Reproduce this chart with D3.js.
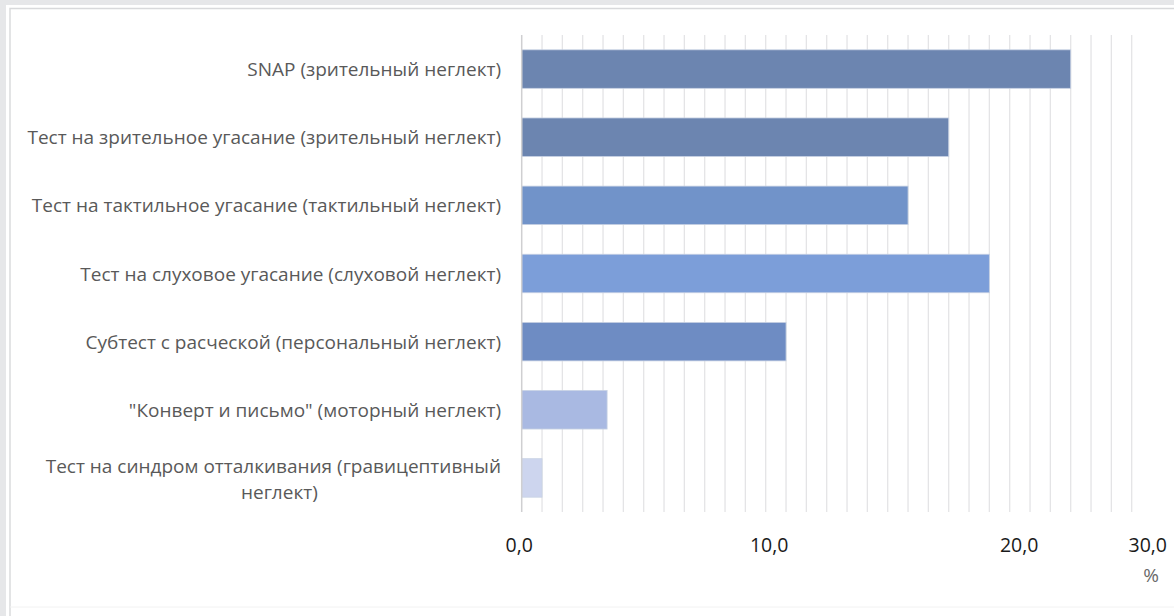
<!DOCTYPE html>
<html>
<head>
<meta charset="utf-8">
<script src="https://cdn.jsdelivr.net/npm/d3@7/dist/d3.min.js"></script>
<style>
  html, body { margin: 0; padding: 0; background: #e6e7e9; }
  svg { display: block; }
</style>
</head>
<body>
<svg id="chart" width="1174" height="616"></svg>
<script>
// ---- data ----
const categories = [
  "SNAP (зрительный неглект)",
  "Тест на зрительное угасание (зрительный неглект)",
  "Тест на тактильное угасание (тактильный неглект)",
  "Тест на слуховое угасание (слуховой неглект)",
  "Субтест с расческой (персональный неглект)",
  "\"Конверт и письмо\" (моторный неглект)",
  "Тест на синдром отталкивания (гравицептивный неглект)"
];
const values = [27.0, 21.0, 19.0, 23.0, 13.0, 4.2, 1.0];
const barColors = ["#6c85b0", "#6c85b0", "#7193c9", "#7c9ed9", "#6e8cc3", "#a9b9e2", "#cdd5ee"];
const tickValues = [0, 10, 20, 30];
const tickLabels = ["0,0", "10,0", "20,0", "30,0"];
const unitLabel = "%";

// ---- layout ----
const W = 1174, H = 616;
const plot = { left: 521.7, right: 1131.7, top: 35, bottom: 512 };
const svg = d3.select("#chart");

// panel
svg.append("rect").attr("x", 0).attr("y", 0).attr("width", W).attr("height", H).attr("fill", "#e6e7e9");
svg.append("rect").attr("x", 6).attr("y", 5).attr("width", W - 6).attr("height", H - 5).attr("fill", "#ffffff");
svg.append("path")
  .attr("d", `M10,${H} V8.5 H${W}`)
  .attr("fill", "none").attr("stroke", "#d8d9db").attr("stroke-width", 1.4);
svg.append("line").attr("x1", 10).attr("x2", W).attr("y1", 607).attr("y2", 607)
  .attr("stroke", "#f2f2f2").attr("stroke-width", 1);

const x = d3.scaleLinear().domain([0, 30]).range([plot.left, plot.right]);
const y = d3.scaleBand().domain(categories).range([plot.top, plot.bottom])
  .paddingInner(0.435).paddingOuter(0.2175);

// gridlines every 1 unit
svg.append("g").selectAll("line")
  .data(d3.range(1, 31))
  .join("line")
  .attr("x1", d => x(d)).attr("x2", d => x(d))
  .attr("y1", plot.top).attr("y2", plot.bottom)
  .attr("stroke", "#e4e4e6").attr("stroke-width", 1.3);

// bars
svg.append("g").selectAll("rect")
  .data(values)
  .join("rect")
  .attr("x", x(0))
  .attr("y", (d, i) => y(categories[i]))
  .attr("width", d => x(d) - x(0))
  .attr("height", y.bandwidth())
  .attr("fill", (d, i) => barColors[i])
  .attr("stroke", "#c8d2e4").attr("stroke-width", 0.8);

// vertical axis line
svg.append("line")
  .attr("x1", x(0)).attr("x2", x(0))
  .attr("y1", plot.top).attr("y2", plot.bottom)
  .attr("stroke", "#cfcfd1").attr("stroke-width", 1.5);

// category labels
const labelX = 501;
const fontFam = "'Open Sans', 'Noto Sans', sans-serif";
const maxLabelW = 490;
const lg = svg.append("g");
categories.forEach((c, i) => {
  const cy = y(c) + y.bandwidth() / 2;
  const t = lg.append("text")
    .attr("font-family", fontFam).attr("font-size", 19)
    .attr("fill", "#595959")
    .attr("dominant-baseline", "central");
  t.text(c);
  if (t.node().getComputedTextLength() <= maxLabelW) {
    t.attr("x", labelX).attr("y", cy).attr("text-anchor", "end");
  } else {
    // wrap into two lines, centered
    const words = c.split(" ");
    const line2 = words.pop();
    const line1 = words.join(" ");
    t.text(null);
    t.attr("text-anchor", "middle");
    const w1 = (() => { t.text(line1); const w = t.node().getComputedTextLength(); t.text(null); return w; })();
    const cx = labelX - w1 / 2;
    t.append("tspan").attr("x", cx).attr("y", cy - 12).text(line1);
    t.append("tspan").attr("x", cx + 6).attr("y", cy + 14).text(line2);
  }
});

// x tick labels (label scale as in source picture; last one held inside the panel)
const xLabel = d3.scaleLinear().domain([0, 10]).range([x(0) - 2.5, x(0) + 247.5]);
const tg = svg.append("g");
tickValues.forEach((v, i) => {
  const t = tg.append("text")
    .attr("font-family", fontFam).attr("font-size", 19.5)
    .attr("fill", "#1a1a1a")
    .attr("text-anchor", "middle")
    .attr("y", 552)
    .text(tickLabels[i]);
  const w = t.node().getComputedTextLength();
  t.attr("x", Math.min(xLabel(v), W - 7 - w / 2));
});

// unit label
svg.append("text")
  .attr("font-family", fontFam).attr("font-size", 19)
  .attr("fill", "#6a6a6a").attr("text-anchor", "middle")
  .attr("x", W - 23).attr("y", 582)
  .text(unitLabel);
</script>
</body>
</html>
